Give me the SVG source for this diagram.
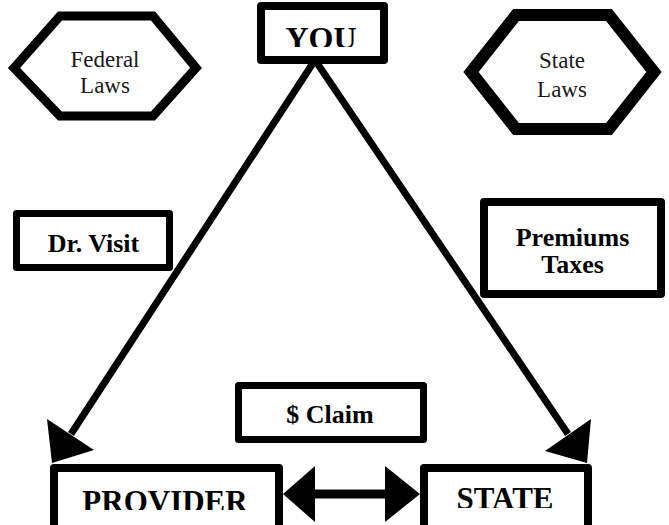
<svg xmlns="http://www.w3.org/2000/svg" width="669" height="525" viewBox="0 0 669 525">
<style>
.box{fill:#fff;stroke:#000;stroke-width:8;stroke-linejoin:round}
.hex{fill:#fff;stroke:#000;stroke-linejoin:miter}
text{font-family:'Liberation Serif','Times New Roman',serif;text-anchor:middle}
.b{font-weight:bold;fill:#000}
.r{fill:#1a1a1a;font-size:23px}
.ln{stroke:#000;stroke-width:7;fill:none}
.ah{fill:#000}
</style>
<defs>
<clipPath id="cYou"><rect x="0" y="0" width="669" height="47"/></clipPath>
<clipPath id="cProv"><rect x="0" y="0" width="669" height="510"/></clipPath>
<clipPath id="cState"><rect x="0" y="0" width="669" height="508"/></clipPath>
</defs>
<rect width="669" height="525" fill="#fff"/>
<g id="connectors">
<line class="ln" x1="315" y1="60" x2="71" y2="434"/>
<polygon class="ah" points="52,463 94,450 47,419"/>
<line class="ln" x1="315" y1="60" x2="568" y2="434"/>
<polygon class="ah" points="587,463 545,451 591,419"/>
<line class="ln" x1="310" y1="494" x2="390" y2="494" style="stroke-width:9"/>
<polygon class="ah" points="283,494 315,466 315,522"/>
<polygon class="ah" points="420,494 385,466 385,522"/>
</g>
<g id="you">
<rect class="box" x="261" y="6" width="123" height="54"/>
<text class="b" x="321" y="49" font-size="32" clip-path="url(#cYou)">YOU</text>
</g>
<g id="federal-laws">
<polygon class="hex" style="stroke-width:9" points="14,68 60,16 153,16 196,68 153,116 60,116"/>
<text class="r" x="105" y="67">Federal</text>
<text class="r" x="105" y="93">Laws</text>
</g>
<g id="state-laws">
<polygon class="hex" style="stroke-width:12" points="471,72 516,15 609,15 654,72 609,129 516,129"/>
<text class="r" x="562" y="68">State</text>
<text class="r" x="562" y="97">Laws</text>
</g>
<g id="dr-visit">
<rect class="box" style="stroke-width:7" x="16.5" y="213.5" width="153" height="54"/>
<text class="b" x="93.5" y="252" font-size="26">Dr. Visit</text>
</g>
<g id="premiums-taxes">
<rect class="box" x="484" y="202" width="177" height="92"/>
<text class="b" x="572.5" y="246" font-size="26">Premiums</text>
<text class="b" x="572.5" y="273" font-size="26">Taxes</text>
</g>
<g id="claim">
<rect class="box" style="stroke-width:7" x="238.5" y="385.5" width="185" height="54"/>
<text class="b" x="330" y="423" font-size="26">$ Claim</text>
</g>
<g id="provider">
<rect class="box" x="54" y="468" width="225" height="70"/>
<text class="b" x="165" y="512" font-size="31" clip-path="url(#cProv)">PROVIDER</text>
</g>
<g id="state">
<rect class="box" x="424" y="468" width="164" height="70"/>
<text class="b" x="505" y="509" font-size="31" clip-path="url(#cState)">STATE</text>
</g>
</svg>
